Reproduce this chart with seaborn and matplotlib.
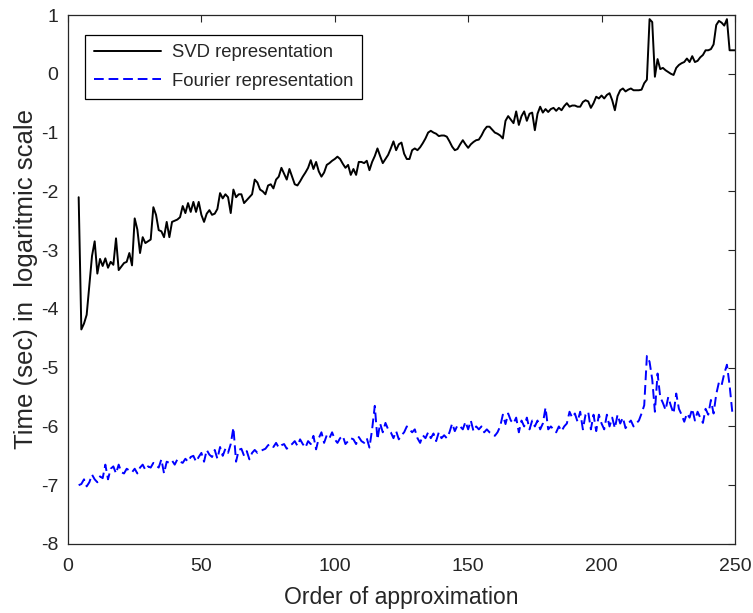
import numpy as np
import pandas as pd
import matplotlib
matplotlib.use("Agg")
import matplotlib.pyplot as plt
import seaborn as sns

orders = list(range(4, 251))

svd_time = [
    -2.1, -4.35, -4.25, -4.1, -3.6, -3.1, -2.85, -3.4, -3.15, -3.27,
    -3.14, -3.3, -3.2, -3.25, -2.8, -3.34, -3.28, -3.22, -3.2, -3.05,
    -3.26, -2.46, -2.65, -3.05, -2.78, -2.88, -2.85, -2.82, -2.27, -2.4,
    -2.66, -2.68, -2.78, -2.52, -2.78, -2.52, -2.5, -2.48, -2.44, -2.25,
    -2.37, -2.2, -2.35, -2.18, -2.35, -2.18, -2.4, -2.52, -2.38, -2.32,
    -2.4, -2.38, -2.3, -2.03, -2.12, -2.05, -2.1, -2.37, -1.97, -2.1,
    -2.05, -2.05, -2.2, -2.15, -2.1, -2.05, -1.8, -1.85, -1.97, -2.0,
    -2.05, -1.9, -1.88, -1.95, -1.8, -1.75, -1.6, -1.7, -1.8, -1.62,
    -1.75, -1.88, -1.9, -1.83, -1.75, -1.68, -1.6, -1.47, -1.62, -1.5,
    -1.66, -1.75, -1.68, -1.55, -1.52, -1.48, -1.45, -1.41, -1.45, -1.53,
    -1.6, -1.55, -1.72, -1.62, -1.72, -1.5, -1.5, -1.52, -1.48, -1.64,
    -1.5, -1.4, -1.27, -1.4, -1.52, -1.45, -1.38, -1.27, -1.15, -1.3,
    -1.2, -1.17, -1.36, -1.45, -1.45, -1.3, -1.27, -1.3, -1.25, -1.18,
    -1.1, -1.0, -0.97, -1.0, -1.02, -1.06, -1.05, -1.05, -1.07, -1.15,
    -1.24, -1.3, -1.28, -1.2, -1.13, -1.2, -1.26, -1.2, -1.16, -1.13,
    -1.12, -1.05, -0.96, -0.9, -0.9, -0.95, -1.0, -1.02, -1.05, -1.1,
    -0.8, -0.72, -0.78, -0.84, -0.64, -0.87, -0.72, -0.64, -0.8, -0.68,
    -0.66, -0.96, -0.68, -0.56, -0.66, -0.6, -0.65, -0.6, -0.58, -0.63,
    -0.58, -0.62, -0.55, -0.5, -0.56, -0.54, -0.54, -0.56, -0.56, -0.48,
    -0.45, -0.47, -0.58, -0.5, -0.39, -0.42, -0.37, -0.42, -0.36, -0.33,
    -0.45, -0.62, -0.38, -0.28, -0.25, -0.3, -0.27, -0.25, -0.28, -0.28,
    -0.28, -0.27, -0.16, -0.1, 0.93, 0.88, -0.05, 0.25, 0.08, 0.1,
    0.06, 0.03, 0.0, -0.02, 0.1, 0.15, 0.18, 0.2, 0.26, 0.2,
    0.3, 0.2, 0.22, 0.28, 0.32, 0.4, 0.4, 0.42, 0.5, 0.83,
    0.9, 0.87, 0.82, 0.93, 0.4, 0.4, 0.4,
]

fourier_time = [
    -7.0, -6.98, -6.9, -7.02, -6.95, -6.82, -6.9, -6.95, -6.85, -6.88,
    -6.65, -6.9, -6.72, -6.68, -6.8, -6.65, -6.78, -6.8, -6.72, -6.75,
    -6.78, -6.72, -6.8, -6.7, -6.65, -6.74, -6.68, -6.7, -6.62, -6.66,
    -6.7, -6.56, -6.8, -6.6, -6.62, -6.58, -6.65, -6.56, -6.6, -6.62,
    -6.55, -6.6, -6.52, -6.5, -6.6, -6.52, -6.45, -6.6, -6.4, -6.48,
    -6.52, -6.4, -6.55, -6.35, -6.5, -6.38, -6.45, -6.3, -6.02, -6.6,
    -6.4, -6.38, -6.5, -6.42, -6.56, -6.45, -6.4, -6.45, -6.42, -6.4,
    -6.38, -6.32, -6.3, -6.35, -6.28, -6.36, -6.32, -6.3, -6.38, -6.33,
    -6.3, -6.25, -6.33, -6.22, -6.3, -6.36, -6.25, -6.3, -6.16, -6.39,
    -6.2, -6.1, -6.28, -6.15, -6.2, -6.1, -6.22, -6.28, -6.2, -6.16,
    -6.3, -6.25, -6.2, -6.22, -6.3, -6.18, -6.25, -6.28, -6.2, -6.36,
    -6.05, -5.65, -6.22, -5.95, -6.1, -5.94, -6.05, -6.1, -6.2, -6.08,
    -6.22, -6.15, -6.1, -6.0, -6.05, -6.1, -6.05, -6.2, -6.28, -6.15,
    -6.2, -6.1, -6.2, -6.12, -6.25, -6.1, -6.2, -6.15, -6.2, -6.1,
    -5.95, -6.08, -5.98, -6.0, -6.05, -5.92, -6.05, -5.9, -6.08, -6.0,
    -6.05, -6.0, -6.1, -6.05, -6.1, -6.12, -6.16, -6.1, -6.0, -5.8,
    -5.96, -5.78, -5.9, -5.95, -5.85, -6.1, -5.9, -6.0, -5.85, -6.05,
    -5.9, -6.0, -5.9, -6.05, -5.95, -5.68, -6.05, -6.0, -6.05, -6.1,
    -6.0, -6.08, -6.0, -5.95, -5.75, -5.85, -5.78, -5.92, -5.75, -6.05,
    -5.8, -5.75, -6.05, -5.8, -6.08, -5.8, -5.95, -6.05, -5.8, -6.0,
    -5.85, -6.03, -5.8, -5.95, -5.85, -6.03, -5.95, -5.9, -6.0, -5.95,
    -5.9, -5.78, -5.64, -4.8, -4.9, -5.2, -5.75, -5.1, -5.5, -5.6,
    -5.72, -5.5, -5.65, -5.78, -5.44, -5.7, -5.8, -5.92, -5.78, -5.85,
    -5.7, -5.9, -5.75, -5.85, -5.94, -5.7, -5.8, -5.55, -5.78, -5.45,
    -5.25, -5.3, -5.1, -4.95, -5.3, -5.75, -5.72,
]

x_ticks = [0, 50, 100, 150, 200, 250]
y_ticks = [-8, -7, -6, -5, -4, -3, -2, -1, 0, 1]

df = pd.DataFrame({"order": orders, "svd": svd_time, "fourier": fourier_time})

sns.set_theme(style="white")
plt.rcParams["font.family"] = ["Liberation Sans", "DejaVu Sans"]
txt = "#262626"

fig = plt.figure(figsize=(7.53, 6.13), dpi=100)
ax = fig.add_axes([0.0903, 0.1126, 0.976 - 0.0903, 0.9755 - 0.1126])

sns.lineplot(data=df, x="order", y="svd", ax=ax, color="black", linewidth=1.4,
             label="SVD representation")
sns.lineplot(data=df, x="order", y="fourier", ax=ax, color="#0000ff", linewidth=1.4,
             linestyle=(0, (5, 2.5)), label="Fourier representation")

ax.set_xlim(0, 250)
ax.set_ylim(-8, 1)
ax.set_xticks(x_ticks)
ax.set_yticks(y_ticks)
ax.set_xticklabels([str(v) for v in x_ticks])
ax.set_yticklabels([str(v) for v in y_ticks])
ax.tick_params(direction="in", length=5, width=0.8, colors=txt, labelsize=14,
               top=True, right=True, labelcolor=txt)
ax.tick_params(axis="x", pad=10)
ax.tick_params(axis="y", pad=7)
for sp in ax.spines.values():
    sp.set_visible(True)
    sp.set_color(txt)
    sp.set_linewidth(0.9)

ax.set_xlabel("Order of approximation", fontsize=16.5, color=txt, labelpad=8)
ax.set_ylabel("Time (sec) in  logaritmic scale", fontsize=18.5, color=txt, labelpad=2)

leg = ax.legend(loc="upper left", bbox_to_anchor=(0.0255, 0.962), borderaxespad=0,
                fontsize=13.3, frameon=True, fancybox=False, edgecolor="black",
                framealpha=1, handlelength=3.6, handletextpad=0.6,
                borderpad=0.5, labelspacing=0.62)
leg.get_frame().set_linewidth(0.9)

fig.savefig("out.png", dpi=100)
